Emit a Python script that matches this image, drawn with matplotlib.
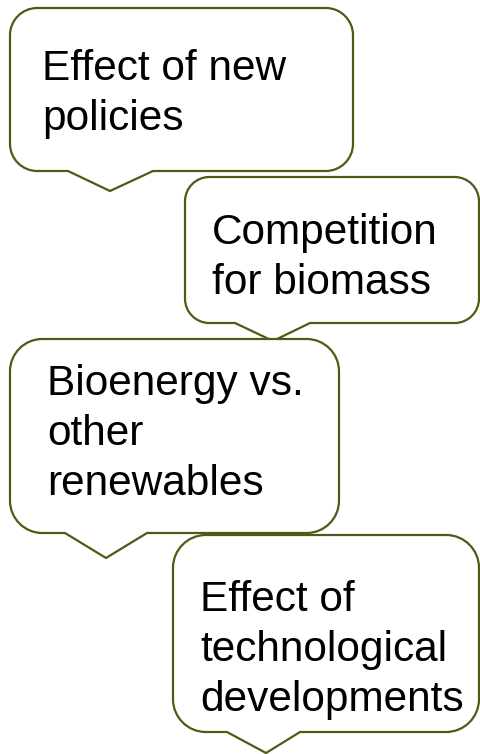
import numpy as np
import matplotlib.pyplot as plt
from matplotlib.path import Path
from matplotlib.patches import PathPatch

# bubble labels, top to bottom
labels = [
    "Effect of new\npolicies",
    "Competition\nfor biomass",
    "Bioenergy vs.\nother\nrenewables",
    "Effect of\ntechnological\ndevelopments",
]
# box edges in pixels: left, top, right, bottom
box_left = [10, 185, 10, 173]
box_top = [8, 177, 339, 535]
box_right = [353, 479, 339, 479]
box_bottom = [171, 323, 533, 732]
# pointer on the bottom edge: base start, base end, tip x, tip y
ptr_start = [68, 235, 65, 227]
ptr_end = [153, 310, 147, 300]
ptr_tip_x = [110, 273, 106, 266]
ptr_tip_y = [191, 341, 558, 753]
# first baseline of text
text_x = [42, 212, 47, 200]
text_y = [80, 244, 395, 611]

EDGE = "#4f5a14"
K = 0.5523


def bubble_path(x0, y0, x1, y1, px0, px1, tx, ty):
    r = min(x1 - x0, y1 - y0) / 6.0
    c = r * (1 - K)
    verts = [
        (x0 + r, y0), (x1 - r, y0),
        (x1 - c, y0), (x1, y0 + c), (x1, y0 + r),
        (x1, y1 - r),
        (x1, y1 - c), (x1 - c, y1), (x1 - r, y1),
        (px1, y1), (tx, ty), (px0, y1),
        (x0 + r, y1),
        (x0 + c, y1), (x0, y1 - c), (x0, y1 - r),
        (x0, y0 + r),
        (x0, y0 + c), (x0 + c, y0), (x0 + r, y0),
        (x0 + r, y0),
    ]
    codes = ([Path.MOVETO, Path.LINETO]
             + [Path.CURVE4] * 3 + [Path.LINETO]
             + [Path.CURVE4] * 3
             + [Path.LINETO] * 4
             + [Path.CURVE4] * 3 + [Path.LINETO]
             + [Path.CURVE4] * 3
             + [Path.CLOSEPOLY])
    return Path(verts, codes)


fig = plt.figure(figsize=(4.81, 7.54), dpi=100)
ax = fig.add_axes([0, 0, 1, 1])
ax.set_xlim(0, 481)
ax.set_ylim(754, 0)
ax.axis("off")

for i, label in enumerate(labels):
    p = bubble_path(box_left[i], box_top[i], box_right[i], box_bottom[i],
                    ptr_start[i], ptr_end[i], ptr_tip_x[i], ptr_tip_y[i])
    ax.add_patch(PathPatch(p, facecolor="white", edgecolor=EDGE, lw=1.6,
                           joinstyle="miter", zorder=i + 1))
    for j, line in enumerate(label.split("\n")):
        ax.text(text_x[i], text_y[i] + j * 50, line, fontsize=30.5,
                family="Liberation Sans", va="baseline", ha="left",
                color="black", zorder=i + 1)

fig.savefig("out.png", dpi=100)
